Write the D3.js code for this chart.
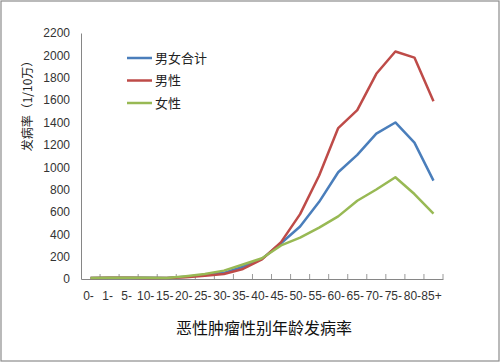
<!DOCTYPE html>
<html>
<head>
<meta charset="utf-8">
<script src="https://cdn.jsdelivr.net/npm/d3@7"></script>
<style>
  body { margin: 0; background: #fff; }
  svg { display: block; font-family: "Liberation Sans", "Noto Sans CJK SC", sans-serif; }
</style>
</head>
<body>
<div id="chart"></div>
<script>
// Data
const ageGroups = ['0-', '1-', '5-', '10-', '15-', '20-', '25-', '30-', '35-', '40-', '45-', '50-', '55-', '60-', '65-', '70-', '75-', '80-', '85+'];
const totalRates = [10, 12, 12, 12, 8, 20, 35, 55, 110, 180, 320, 470, 690, 955, 1110, 1300, 1400, 1220, 880];
const maleRates = [10, 12, 12, 10, 8, 15, 30, 45, 90, 175, 330, 580, 925, 1350, 1510, 1835, 2035, 1980, 1590];
const femaleRates = [10, 12, 12, 12, 8, 25, 45, 75, 130, 185, 300, 370, 460, 560, 700, 800, 910, 760, 585];
const seriesNames = ['男女合计', '男性', '女性'];
const yTicks = [0, 200, 400, 600, 800, 1000, 1200, 1400, 1600, 1800, 2000, 2200];

const config = {
    width: 501,
    height: 363,
    left: 81,
    right: 443,
    top: 33,
    bottom: 279,
    colors: ['#4a7ebb', '#be4b48', '#98b954']
};

const svg = d3.select('#chart')
    .append('svg')
    .attr('width', config.width)
    .attr('height', config.height);

// outer frame
svg.append('rect')
    .attr('x', 1).attr('y', 1)
    .attr('width', config.width - 3).attr('height', config.height - 3)
    .attr('fill', '#fff')
    .attr('stroke', '#8c8c8c')
    .attr('stroke-width', 1.2);

const x = d3.scaleBand()
    .domain(ageGroups)
    .range([config.left, config.right])
    .padding(0);

const y = d3.scaleLinear()
    .domain([0, 2200])
    .range([config.bottom, config.top]);

// Y axis
const yAxis = svg.append('g')
    .attr('transform', `translate(${config.left},0)`)
    .call(d3.axisLeft(y).tickValues(yTicks).tickFormat(d3.format('d'))
        .tickSize(0).tickSizeOuter(0).tickPadding(11));
yAxis.select('.domain').attr('stroke', '#868686');
yAxis.selectAll('.tick text')
    .attr('fill', '#333')
    .style('font-size', '12px');

// X axis
const xAxis = svg.append('g')
    .attr('transform', `translate(0,${config.bottom})`)
    .call(d3.axisBottom(x).tickSize(0).tickPadding(12).tickSizeOuter(0));
xAxis.select('.domain').attr('stroke', '#868686');
xAxis.selectAll('.tick text')
    .attr('fill', '#333')
    .style('font-size', '12px')
    .attr('dx', '-2px');

// category boundary ticks (pointing up, inside the plot)
svg.append('g')
    .selectAll('line')
    .data(ageGroups)
    .join('line')
    .attr('x1', d => x(d) + x.bandwidth())
    .attr('x2', d => x(d) + x.bandwidth())
    .attr('y1', config.bottom)
    .attr('y2', config.bottom - 5)
    .attr('stroke', '#9a9a9a');

// Lines
const line = d3.line()
    .x((d, i) => x(ageGroups[i]) + x.bandwidth() / 2)
    .y(d => y(d));

[totalRates, maleRates, femaleRates].forEach((vals, i) => {
    svg.append('path')
        .datum(vals)
        .attr('fill', 'none')
        .attr('stroke', config.colors[i])
        .attr('stroke-width', 2.5)
        .attr('stroke-linejoin', 'round')
        .attr('d', line);
});

// Legend
const legend = svg.append('g')
    .selectAll('g')
    .data(seriesNames)
    .join('g')
    .attr('transform', (d, i) => `translate(127,${58 + i * 22.5})`);

legend.append('line')
    .attr('x1', 0).attr('x2', 25)
    .attr('stroke', (d, i) => config.colors[i])
    .attr('stroke-width', 2.5);

legend.append('text')
    .attr('x', 28)
    .attr('dy', '0.35em')
    .attr('fill', '#222')
    .style('font-family', '"Noto Sans CJK SC", sans-serif')
    .style('font-size', '13px')
    .text(d => d);

// Axis titles
svg.append('text')
    .attr('transform', 'translate(32,103) rotate(-90)')
    .attr('text-anchor', 'middle')
    .attr('fill', '#222')
    .style('font-family', '"Noto Sans CJK SC", sans-serif')
    .style('font-size', '12px')
    .text('发病率（1/10万）');

svg.append('text')
    .attr('x', 264)
    .attr('y', 334)
    .attr('text-anchor', 'middle')
    .attr('fill', '#111')
    .style('font-family', '"Noto Sans CJK SC", sans-serif')
    .style('font-size', '16px')
    .text('恶性肿瘤性别年龄发病率');
</script>
</body>
</html>
